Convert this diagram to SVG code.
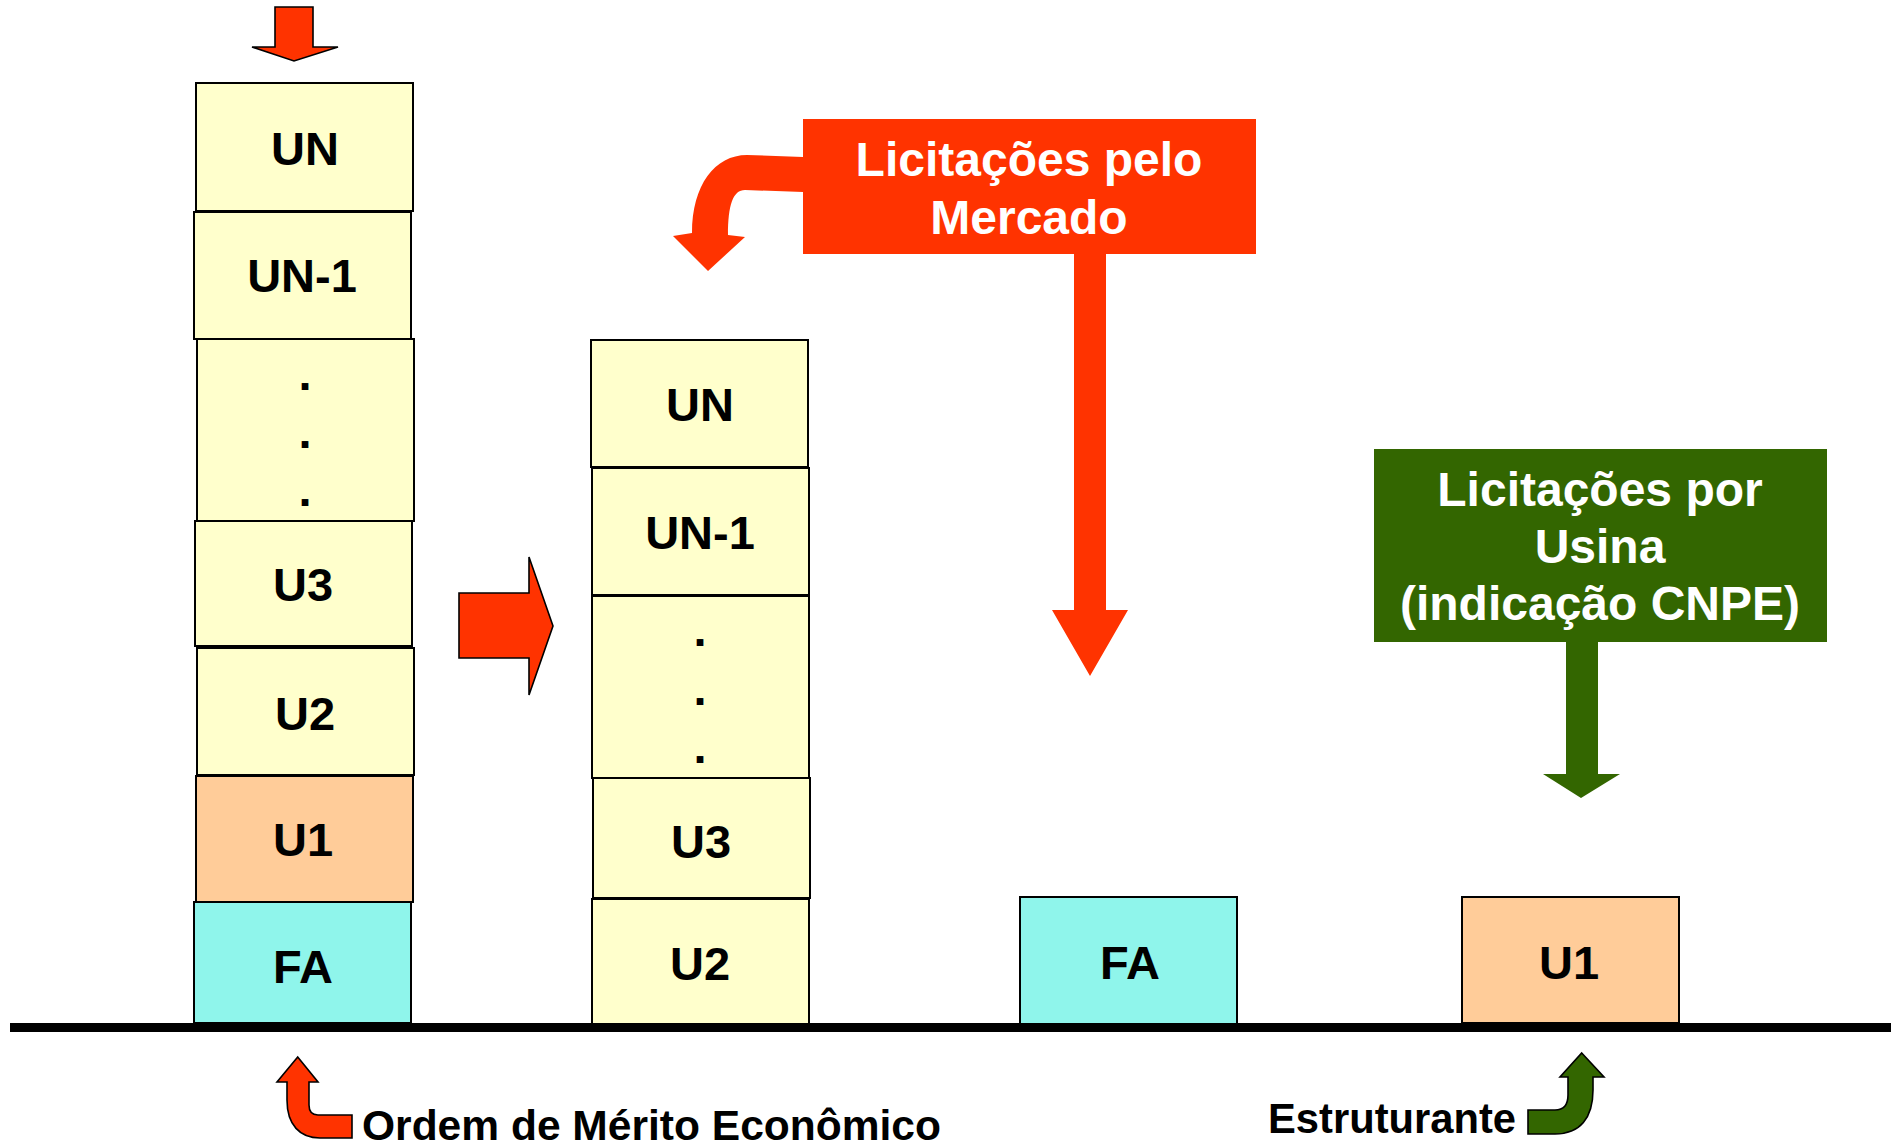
<svg xmlns="http://www.w3.org/2000/svg" width="1892" height="1146" viewBox="0 0 1892 1146">
<style>
.box{stroke:#000;stroke-width:2}
.y{fill:#FFFFCC}
.p{fill:#FFCC99}
.c{fill:#8FF5EB}
.lbl{font-family:"Liberation Sans",Arial,sans-serif;font-weight:bold;font-size:47px;fill:#000;text-anchor:middle}
.hdr{font-family:"Liberation Sans",Arial,sans-serif;font-weight:bold;font-size:48px;fill:#fff;text-anchor:middle}
.cap{font-family:"Liberation Sans",Arial,sans-serif;font-weight:bold;font-size:42px;fill:#000}
.red{fill:#FF3300}
.grn{fill:#336600}
.ol{stroke:#000;stroke-width:1.6;stroke-linejoin:miter}
</style>
<rect width="1892" height="1146" fill="#fff"/>

<g id="col1">
  <g id="c1-un"><rect class="box y" x="196" y="83" width="217" height="128"/><text class="lbl" x="305" y="165">UN</text></g>
  <g id="c1-un1"><rect class="box y" x="194" y="212" width="217" height="127"/><text class="lbl" x="302" y="292">UN-1</text></g>
  <g id="c1-dots"><rect class="box y" x="197" y="339" width="217" height="182"/><text class="lbl" x="305"><tspan x="305" y="390">.</tspan><tspan x="305" y="448">.</tspan><tspan x="305" y="506">.</tspan></text></g>
  <g id="c1-u3"><rect class="box y" x="195" y="521" width="217" height="125"/><text class="lbl" x="303" y="601">U3</text></g>
  <g id="c1-u2"><rect class="box y" x="197" y="648" width="217" height="127"/><text class="lbl" x="305" y="730">U2</text></g>
  <g id="c1-u1"><rect class="box p" x="196" y="776" width="217" height="126"/><text class="lbl" x="303" y="856">U1</text></g>
  <g id="c1-fa"><rect class="box c" x="194" y="902" width="217" height="121"/><text class="lbl" x="303" y="983">FA</text></g>
</g>

<g id="col2">
  <g id="c2-un"><rect class="box y" x="591" y="340" width="217" height="127"/><text class="lbl" x="700" y="421">UN</text></g>
  <g id="c2-un1"><rect class="box y" x="592" y="468" width="217" height="127"/><text class="lbl" x="700" y="549">UN-1</text></g>
  <g id="c2-dots"><rect class="box y" x="592" y="596" width="217" height="182"/><text class="lbl" x="700"><tspan x="700" y="646">.</tspan><tspan x="700" y="705">.</tspan><tspan x="700" y="763">.</tspan></text></g>
  <g id="c2-u3"><rect class="box y" x="593" y="778" width="217" height="120"/><text class="lbl" x="701" y="858">U3</text></g>
  <g id="c2-u2"><rect class="box y" x="592" y="899" width="217" height="126"/><text class="lbl" x="700" y="980">U2</text></g>
</g>

<g id="fa-right"><rect class="box c" x="1020" y="897" width="217" height="127"/><text class="lbl" x="1130" y="979">FA</text></g>
<g id="u1-right"><rect class="box p" x="1462" y="897" width="217" height="126"/><text class="lbl" x="1569" y="979">U1</text></g>

<g id="mercado">
  <rect class="red" x="803" y="119" width="453" height="135"/>
  <text class="hdr" x="1029" y="176">Licitações pelo</text>
  <text class="hdr" x="1029" y="234">Mercado</text>
</g>

<g id="usina">
  <rect class="grn" x="1374" y="449" width="453" height="193"/>
  <text class="hdr" x="1600" y="506">Licitações por</text>
  <text class="hdr" x="1600" y="563">Usina</text>
  <text class="hdr" x="1600" y="620">(indicação CNPE)</text>
</g>

<rect id="ground" x="10" y="1023" width="1881" height="9" fill="#000"/>

<g id="connectors">
  <path class="red ol" d="M275,7 L313,7 L313,47 L338,47 L294,61 L252,47 L275,47 Z"/>
  <path class="red ol" d="M459,593 L529,593 L529,557 L553,626 L529,695 L529,658 L459,658 Z"/>
  <path class="red" d="M803,157 L747,155 C715,155 692,185 692,233 L673,236 L708,271 L745,237 L728,235 C728,205 733,190 745,190 L803,192 Z"/>
  <path class="red" d="M1074,254 L1106,254 L1106,610 L1128,610 L1090,676 L1052,610 L1074,610 Z"/>
  <path class="grn" d="M1566,642 L1598,642 L1598,774 L1620,774 L1581,798 L1543,774 L1566,774 Z"/>
  <path class="red ol" d="M297.7,1057 L318,1082 L309,1082 L309,1105 C309,1112 312,1115 318,1115 L352,1115 L352,1138 L320,1138 C300,1138 287,1125 287,1100 L287,1082 L277,1082 Z"/>
  <path class="grn ol" d="M1581.7,1053 L1604,1077 L1593,1077 L1593,1090 C1593,1118 1580,1134 1555,1134 L1528,1134 L1528,1110 L1555,1110 C1563,1110 1568,1105 1568,1095 L1568,1077 L1560,1077 Z"/>
</g>

<g id="captions">
  <text class="cap" x="362" y="1140" textLength="579" lengthAdjust="spacingAndGlyphs">Ordem de Mérito Econômico</text>
  <text class="cap" x="1268" y="1133" textLength="248" lengthAdjust="spacingAndGlyphs">Estruturante</text>
</g>
</svg>
